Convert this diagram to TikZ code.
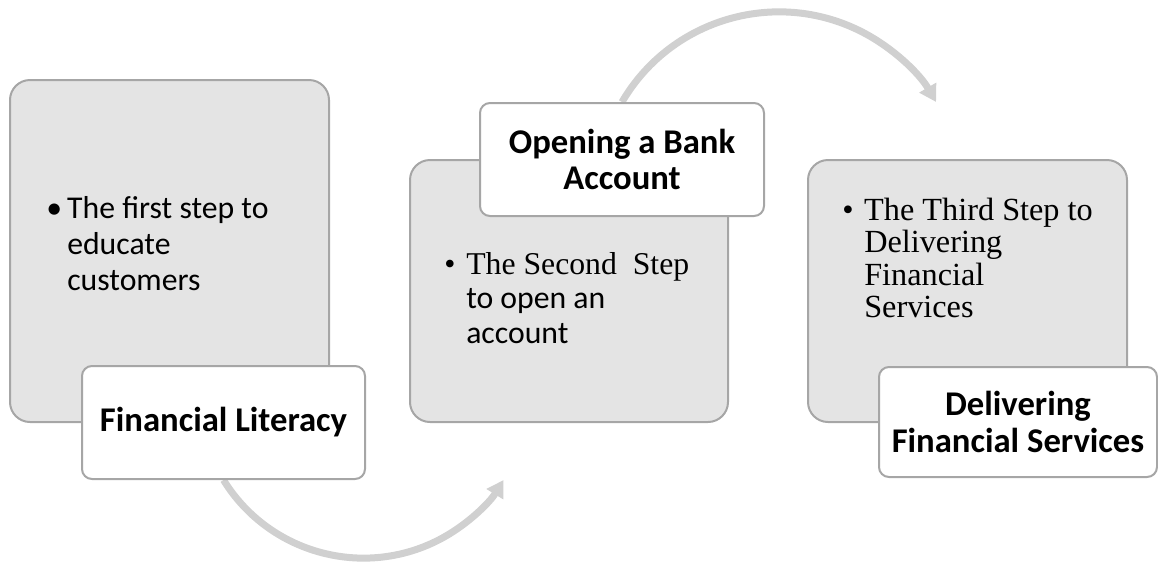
\documentclass[tikz,border=0pt]{standalone}
\usepackage{fontspec}
\setmainfont{Carlito}
\newfontfamily\timesfont{Liberation Serif}
\usetikzlibrary{arrows.meta,backgrounds}
\definecolor{boxfill}{RGB}{228,228,228}
\definecolor{boxline}{RGB}{166,166,166}
\definecolor{flowgrey}{RGB}{208,208,208}

\begin{document}
\begin{tikzpicture}[x=0.75pt,y=0.75pt,yscale=-1,
  stepbox/.style={draw=boxline,line width=1.5pt,fill=boxfill,rounded corners=15pt,inner sep=0pt},
  titlebox/.style={draw=boxline,line width=1.5pt,fill=white,rounded corners=7.5pt,inner sep=0pt,
    align=center,font=\fontsize{26}{27.5}\selectfont\bfseries},
  bullettext/.style={anchor=base west,inner sep=0pt},
  flow/.style={draw=flowgrey,line width=5.25pt,-{Triangle[width=14pt,length=12.5pt]}}]
%set diagram left start at 0, and has height of 562
\useasboundingbox (0,0) rectangle (1158,562);

%Shape: grey step boxes
\node[stepbox,minimum width=239.25pt,minimum height=256.5pt] (lit box) at (169.5,251) {};
\node[stepbox,minimum width=238.5pt,minimum height=196.5pt] (bank box) at (569,291) {};
\node[stepbox,minimum width=239.25pt,minimum height=196.5pt] (serv box) at (967.5,291) {};

% Text Node
\node[bullettext,font=\fontsize{23.8}{27}\selectfont] (lit text) at (46,218)
  {\begin{tabular}[t]{@{}p{15.75pt}@{}l@{}}\textbullet & The first step to\\ & educate\\ & customers\end{tabular}};
% Text Node
\node[bullettext,font=\fontsize{23.8}{26}\selectfont] (bank text) at (444,274)
  {\begin{tabular}[t]{@{}p{16.5pt}@{}l@{}}\timesfont\textbullet & \timesfont The Second\ \ Step\\ & to open an\\ & account\end{tabular}};
% Text Node
\node[bullettext,font=\fontsize{24.2}{24.4}\selectfont\timesfont] (serv text) at (842,220)
  {\begin{tabular}[t]{@{}p{16.5pt}@{}l@{}}\textbullet & The Third Step to\\ & Delivering\\ & Financial\\ & Services\end{tabular}};

%Shape: white title boxes
\node[titlebox,minimum width=212.25pt,minimum height=84.75pt] (lit) at (223.5,422.5) {Financial Literacy};
\node[titlebox,minimum width=213pt,minimum height=84.75pt] (bank) at (622,159.5) {Opening a Bank\\Account};
\node[titlebox,minimum width=208.5pt,minimum height=82.5pt] (serv) at (1018,422) {Delivering\\Financial Services};

%Curved arrows behind the title boxes
\begin{scope}[on background layer]
\draw[flow] (lit.south) arc[start angle=148.3,end angle=31.7,radius=164.6];
\draw[flow] (bank.north) arc[start angle=-149.7,end angle=-30.3,radius=181.9];
\end{scope}

\end{tikzpicture}
\end{document}
